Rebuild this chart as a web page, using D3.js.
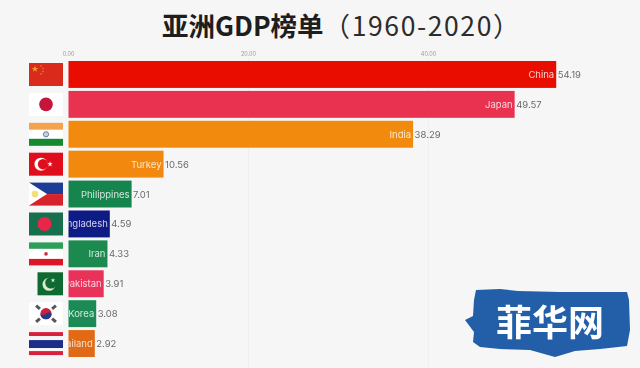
<!DOCTYPE html>
<html>
<head>
<meta charset="utf-8">
<script src="https://d3js.org/d3.v7.min.js"></script>
<style>
  html, body { margin: 0; padding: 0; background: #f6f6f6; overflow: hidden; }
  text { font-family: "Inter", "Liberation Sans", sans-serif; }
  .cjk { font-family: "Noto Sans CJK SC", sans-serif; }
</style>
</head>
<body>
<div class="chart"></div>
<script>
var svgWidth = 640;
var svgHeight = 368;

var titleBold = "亚洲GDP榜单";
var titleYears = "（1960-2020）";
var logoText = "菲华网";

var countries = ["China", "Japan", "India", "Turkey", "Philippines", "Bangladesh", "Iran", "Pakistan", "Korea", "Thailand"];
var gdpValues = [54.19, 49.57, 38.29, 10.56, 7.01, 4.59, 4.33, 3.91, 3.08, 2.92];
var valueLabels = ["54.19", "49.57", "38.29", "10.56", "7.01", "4.59", "4.33", "3.91", "3.08", "2.92"];
var barColors = ["#e90b06", "#e8304f", "#f28a08", "#f2880c", "#17854d", "#101a85", "#1a8a50", "#e8305a", "#1c8a55", "#e06a12"];
var axisTicks = [0, 20, 40];

var margin = { top: 61, left: 68.5 };

var svg = d3.select(".chart").append("svg")
  .attr("width", svgWidth)
  .attr("height", svgHeight);

var defs = svg.append("defs");
defs.append("filter").attr("id", "soft")
  .attr("x", "-2%").attr("y", "-2%").attr("width", "104%").attr("height", "104%")
  .append("feGaussianBlur").attr("stdDeviation", 0.4);

var chartGroup = svg.append("g").attr("filter", "url(#soft)");

// scales
var xScale = d3.scaleLinear().domain([0, 60]).range([margin.left, margin.left + 540]);
var yScale = d3.scaleBand().domain(countries).range([margin.top, margin.top + 296]).paddingInner(0.1);

// title, the years are set lighter than the words
var title = svg.append("text")
  .attr("class", "cjk")
  .attr("x", 162)
  .attr("y", 36)
  .attr("font-size", 26.5)
  .attr("fill", "#1e1e1e");
title.append("tspan").attr("font-weight", 700).text(titleBold);
title.append("tspan").attr("font-weight", 400).attr("letter-spacing", 1.6).attr("fill", "#2c2c2c").text(titleYears);

// faint grid lines and tick labels on top
chartGroup.selectAll(".grid")
  .data(axisTicks.slice(1))
  .enter().append("line")
  .attr("x1", d => xScale(d))
  .attr("x2", d => xScale(d))
  .attr("y1", margin.top - 4)
  .attr("y2", svgHeight)
  .attr("stroke", "#efefef")
  .attr("stroke-width", 1);

chartGroup.selectAll(".tick-label")
  .data(axisTicks)
  .enter().append("text")
  .attr("x", d => xScale(d))
  .attr("y", 56)
  .attr("text-anchor", "middle")
  .attr("font-size", 5.5)
  .attr("fill", "#999")
  .text(d => d3.format(".2f")(d));

// clip each label to its bar, long names get cut on the left
defs.selectAll("clipPath")
  .data(countries)
  .enter().append("clipPath")
  .attr("id", (d, i) => "bar-clip-" + i)
  .append("rect")
  .attr("x", xScale(0))
  .attr("y", d => yScale(d))
  .attr("width", (d, i) => xScale(gdpValues[i]) - xScale(0))
  .attr("height", yScale.bandwidth());

chartGroup.selectAll(".bar")
  .data(countries)
  .enter().append("rect")
  .attr("class", "bar")
  .attr("x", xScale(0))
  .attr("y", d => yScale(d))
  .attr("width", (d, i) => xScale(gdpValues[i]) - xScale(0))
  .attr("height", yScale.bandwidth())
  .attr("fill", (d, i) => barColors[i]);

chartGroup.selectAll(".name")
  .data(countries)
  .enter().append("text")
  .attr("class", "name")
  .attr("clip-path", (d, i) => "url(#bar-clip-" + i + ")")
  .attr("x", (d, i) => xScale(gdpValues[i]) - 2)
  .attr("y", d => yScale(d) + yScale.bandwidth() / 2 + 3.5)
  .attr("text-anchor", "end")
  .attr("font-size", 9.5)
  .attr("fill", "#ffffff")
  .attr("fill-opacity", 0.8)
  .text(d => d);

chartGroup.selectAll(".value")
  .data(countries)
  .enter().append("text")
  .attr("class", "value")
  .attr("x", (d, i) => xScale(gdpValues[i]) + 1.5)
  .attr("y", d => yScale(d) + yScale.bandwidth() / 2 + 3.5)
  .attr("font-size", 9.5)
  .attr("fill", "#6a6a6a")
  .text((d, i) => valueLabels[i]);

// flags, each drawn inside a 34x23 box
var flagW = 34;

function stripes(g, rows) {
  rows.forEach(function(r) {
    g.append("rect").attr("x", 0).attr("y", r[0]).attr("width", flagW).attr("height", r[1]).attr("fill", r[2]);
  });
}

var flagDraw = {
  China: function(g) {
    stripes(g, [[0, 23, "#d92a1c"]]);
    g.append("path").attr("d", d3.symbol(d3.symbolStar, 14)()).attr("transform", "translate(6,6)").attr("fill", "#eda02c");
    [[12, 3], [14, 5.5], [14, 8.5], [12, 11]].forEach(function(p) {
      g.append("path").attr("d", d3.symbol(d3.symbolStar, 2)()).attr("transform", `translate(${p[0]},${p[1]})`).attr("fill", "#e8802c");
    });
  },
  Japan: function(g) {
    stripes(g, [[0, 23, "#ffffff"]]);
    g.append("circle").attr("cx", 17).attr("cy", 11.5).attr("r", 6.8).attr("fill", "#c4163c");
  },
  India: function(g) {
    stripes(g, [[0, 7, "#f4a24c"], [7, 9, "#ffffff"], [16, 7, "#12882e"]]);
    g.append("circle").attr("cx", 17).attr("cy", 11.5).attr("r", 2.6).attr("fill", "#c8d0e4").attr("stroke", "#6a7aa8").attr("stroke-width", 1);
  },
  Turkey: function(g) {
    stripes(g, [[0, 23, "#e0111f"]]);
    g.append("circle").attr("cx", 12).attr("cy", 11.5).attr("r", 6.5).attr("fill", "#ffffff");
    g.append("circle").attr("cx", 14).attr("cy", 11.5).attr("r", 5.2).attr("fill", "#e0111f");
    g.append("path").attr("d", d3.symbol(d3.symbolStar, 9)()).attr("transform", "translate(21,11.5)").attr("fill", "#ffffff");
  },
  Philippines: function(g) {
    stripes(g, [[0, 11.5, "#1f3c96"], [11.5, 11.5, "#d6202c"]]);
    g.append("path").attr("d", "M0,0L18,11.5L0,23Z").attr("fill", "#ffffff");
    g.append("circle").attr("cx", 6).attr("cy", 11.5).attr("r", 3.4).attr("fill", "#f2de7a");
  },
  Bangladesh: function(g) {
    stripes(g, [[0, 23, "#12704e"]]);
    g.append("circle").attr("cx", 15.5).attr("cy", 11.5).attr("r", 7).attr("fill", "#e8284c");
  },
  Iran: function(g) {
    stripes(g, [[0, 6.5, "#2f9e5a"], [6.5, 10, "#ffffff"], [16.5, 6.5, "#dc1526"]]);
    g.append("circle").attr("cx", 17).attr("cy", 11.5).attr("r", 1.8).attr("fill", "#c4303c");
  },
  Pakistan: function(g) {
    g.append("rect").attr("x", 8.5).attr("y", 0).attr("width", 25.5).attr("height", 23).attr("fill", "#0e6a30");
    g.append("circle").attr("cx", 20).attr("cy", 12).attr("r", 6.5).attr("fill", "#dfe8c8");
    g.append("circle").attr("cx", 22).attr("cy", 10.5).attr("r", 5.8).attr("fill", "#0e6a30");
    g.append("path").attr("d", d3.symbol(d3.symbolStar, 7)()).attr("transform", "translate(24,8)").attr("fill", "#dfe8c8");
  },
  Korea: function(g) {
    stripes(g, [[0, 23, "#ffffff"]]);
    g.append("circle").attr("cx", 17).attr("cy", 11.5).attr("r", 5.6).attr("fill", "#c8203c");
    g.append("path").attr("d", "M11.4,11.5A5.6,5.6 0 0 0 22.6,11.5Q20,9 17,11.5T11.4,11.5Z").attr("fill", "#1f3c8c");
    [[9, 5, 40], [25, 5, -40], [9, 18, -40], [25, 18, 40]].forEach(function(b) {
      g.append("rect").attr("x", -2.5).attr("y", -1.5).attr("width", 5).attr("height", 3)
        .attr("transform", `translate(${b[0]},${b[1]}) rotate(${b[2]})`).attr("fill", "#555");
    });
  },
  Thailand: function(g) {
    stripes(g, [[0, 4, "#d8243c"], [4, 4, "#f6f6f6"], [8, 8, "#1f2f88"], [16, 3, "#f6f6f6"], [19, 4, "#d8243c"]]);
  }
};

countries.forEach(function(name) {
  var g = chartGroup.append("g")
    .attr("transform", `translate(29, ${yScale(name) + 2})`);
  flagDraw[name](g);
});

// watermark brush stroke
var logo = svg.append("g").attr("filter", "url(#soft)");
logo.append("path")
  .attr("d", "M476,290 L500,289 L518,291 L560,292 L627,292 L629,300 L630,330 L627,346 L600,349 L575,351 L555,357 L530,350 L500,349 L480,347 L473,342 L474,332 L465,320 L473,316 L474,300 Z")
  .attr("fill", "#205fa8");
logo.append("text")
  .attr("class", "cjk")
  .attr("x", 550)
  .attr("y", 336)
  .attr("text-anchor", "middle")
  .attr("font-size", 36)
  .attr("font-weight", 700)
  .attr("fill", "#ffffff")
  .text(logoText);
</script>
</body>
</html>
